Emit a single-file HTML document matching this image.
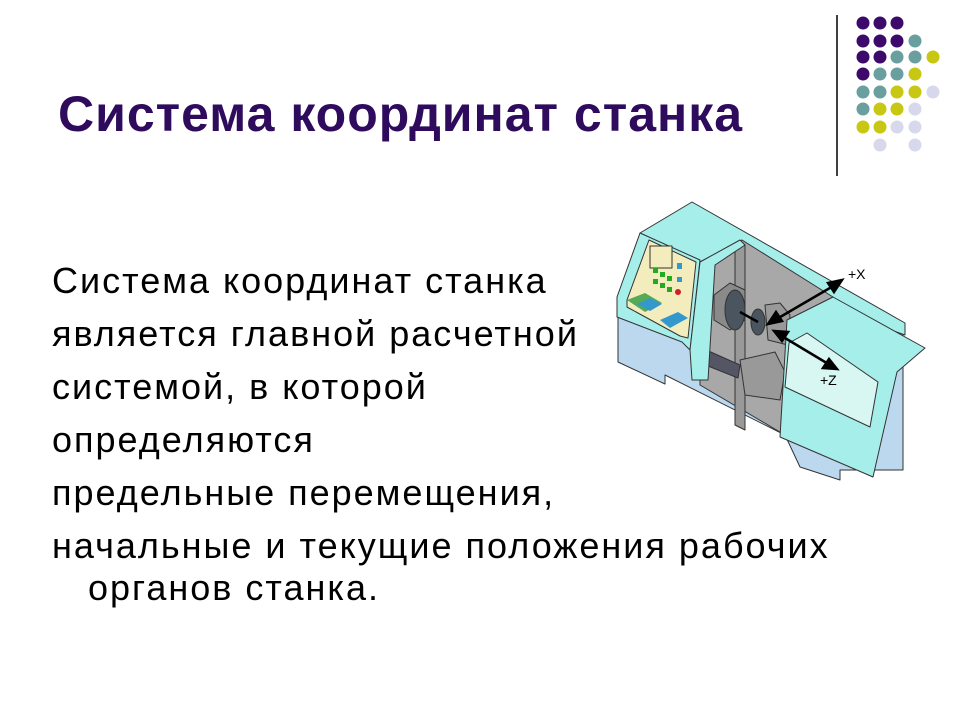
<!DOCTYPE html>
<html><head><meta charset="utf-8"><style>
body{margin:0;width:960px;height:720px;background:#fff;position:relative;overflow:hidden;font-family:"Liberation Sans",sans-serif}
h1{position:absolute;left:58px;top:86px;margin:0;font-size:50px;letter-spacing:1px;font-weight:bold;color:#2E0B5C;white-space:nowrap;line-height:1.15}
.t{position:absolute;left:52px;font-size:36px;letter-spacing:2px;color:#000;white-space:nowrap;line-height:1.15}
</style></head><body>
<h1>Система координат станка</h1>
<div class="t" style="top:260px">Система координат станка</div>
<div class="t" style="top:313px">является главной расчетной</div>
<div class="t" style="top:366px">системой, в которой</div>
<div class="t" style="top:419px">определяются</div>
<div class="t" style="top:472px">предельные перемещения,</div>
<div class="t" style="top:525px">начальные и текущие положения рабочих</div>
<div class="t" style="top:567px;left:88px">органов станка.</div>
<svg width="960" height="720" style="position:absolute;left:0;top:0">
<line x1="837" y1="15" x2="837" y2="176" stroke="#000" stroke-width="1.5"/>
<g>
<circle cx="863" cy="23" r="6.5" fill="#3D0A6B"/><circle cx="880" cy="23" r="6.5" fill="#3D0A6B"/><circle cx="897" cy="23" r="6.5" fill="#3D0A6B"/>
<circle cx="863" cy="41" r="6.5" fill="#3D0A6B"/><circle cx="880" cy="41" r="6.5" fill="#3D0A6B"/><circle cx="897" cy="41" r="6.5" fill="#3D0A6B"/><circle cx="915" cy="41" r="6.5" fill="#6A9FA0"/>
<circle cx="863" cy="57" r="6.5" fill="#3D0A6B"/><circle cx="880" cy="57" r="6.5" fill="#3D0A6B"/><circle cx="897" cy="57" r="6.5" fill="#6A9FA0"/><circle cx="915" cy="57" r="6.5" fill="#6A9FA0"/><circle cx="933" cy="57" r="6.5" fill="#C8C814"/>
<circle cx="863" cy="74" r="6.5" fill="#3D0A6B"/><circle cx="880" cy="74" r="6.5" fill="#6A9FA0"/><circle cx="897" cy="74" r="6.5" fill="#6A9FA0"/><circle cx="915" cy="74" r="6.5" fill="#C8C814"/>
<circle cx="863" cy="92" r="6.5" fill="#6A9FA0"/><circle cx="880" cy="92" r="6.5" fill="#6A9FA0"/><circle cx="897" cy="92" r="6.5" fill="#C8C814"/><circle cx="915" cy="92" r="6.5" fill="#C8C814"/><circle cx="933" cy="92" r="6.5" fill="#D8D8EC"/>
<circle cx="863" cy="109" r="6.5" fill="#6A9FA0"/><circle cx="880" cy="109" r="6.5" fill="#C8C814"/><circle cx="897" cy="109" r="6.5" fill="#C8C814"/><circle cx="915" cy="109" r="6.5" fill="#D8D8EC"/>
<circle cx="863" cy="127" r="6.5" fill="#C8C814"/><circle cx="880" cy="127" r="6.5" fill="#C8C814"/><circle cx="897" cy="127" r="6.5" fill="#D8D8EC"/><circle cx="915" cy="127" r="6.5" fill="#D8D8EC"/>
<circle cx="880" cy="145" r="6.5" fill="#D8D8EC"/><circle cx="915" cy="145" r="6.5" fill="#D8D8EC"/>
</g>
<g stroke="#333" stroke-width="1" stroke-linejoin="round">
<!-- base -->
<polygon points="618,317 618,362 665,384 665,375 785,435 800,467 840,480 840,470 903,470 903,325 700,260" fill="#BCD8EE"/>
<!-- top back panel -->
<polygon points="640,233 692,202 905,323 905,335 700,262" fill="#A6EEEA"/>
<!-- control panel -->
<polygon points="617,297 640,233 700,260 690,350 682,342 617,317" fill="#A6EEEA"/>
<polygon points="649,240 696,262 688,338 680,336 627,307 627,300" fill="#F3EDBE"/>
<rect x="650" y="246" width="22" height="22" fill="#F3EDBE"/>
<g stroke="none">
<rect x="653" y="268" width="5" height="5" fill="#2a2"/><rect x="660" y="272" width="5" height="5" fill="#2a2"/><rect x="667" y="276" width="5" height="5" fill="#2a2"/>
<rect x="653" y="279" width="5" height="5" fill="#2a2"/><rect x="660" y="283" width="5" height="5" fill="#2a2"/><rect x="667" y="287" width="5" height="5" fill="#2a2"/>
<rect x="677" y="263" width="5" height="6" fill="#39c"/><rect x="677" y="277" width="5" height="5" fill="#39c"/><circle cx="678" cy="292" r="3" fill="#c22"/>
<polygon points="627,300 645,293 662,303 645,312" fill="#5a5"/><polygon points="637,304 650,298 662,304 650,311" fill="#39c"/>
<polygon points="660,320 678,312 688,318 670,328" fill="#39c"/>
</g>
<!-- interior -->
<polygon points="700,262 742,240 833,297 787,322 785,435 700,385" fill="#A8A8A8"/>
<polygon points="735,248 745,245 745,430 735,425" fill="#999"/>
<polygon points="695,345 740,365 738,378 693,360" fill="#556"/>
<!-- chuck -->
<polygon points="714,295 730,283 745,290 745,320 730,330 714,320" fill="#8a8a8a"/>
<ellipse cx="735" cy="310" rx="10" ry="20" fill="#4a5560"/>
<ellipse cx="758" cy="322" rx="7" ry="13" fill="#4a5560"/>
<polygon points="765,305 780,303 790,315 788,345 768,340" fill="#999"/>
<polygon points="740,360 775,352 785,372 780,400 745,395" fill="#999"/>
<!-- pillar -->
<polygon points="700,262 740,240 745,245 715,265 708,380 692,380 690,350" fill="#A6EEEA"/>
<!-- door -->
<polygon points="787,320 833,297 925,348 897,372 873,477 780,437" fill="#A6EEEA"/>
<polygon points="789,343 807,333 878,382 870,427 785,387" fill="#D8F6F2"/>
</g>
<g stroke="#000" stroke-width="2.5" fill="#000">
<line x1="775" y1="320" x2="835" y2="285"/><polygon points="842,280 828,283 834,292"/><polygon points="768,324 782,321 776,312"/>
<line x1="780" y1="335" x2="830" y2="365"/><polygon points="837,369 823,368 829,359"/><polygon points="774,331 788,332 782,341"/>
<line x1="740" y1="312" x2="758" y2="322"/>
</g>
<text x="848" y="279" font-size="14" font-family="Liberation Sans">+X</text>
<text x="820" y="385" font-size="14" font-family="Liberation Sans">+Z</text>
</svg>
</body></html>
